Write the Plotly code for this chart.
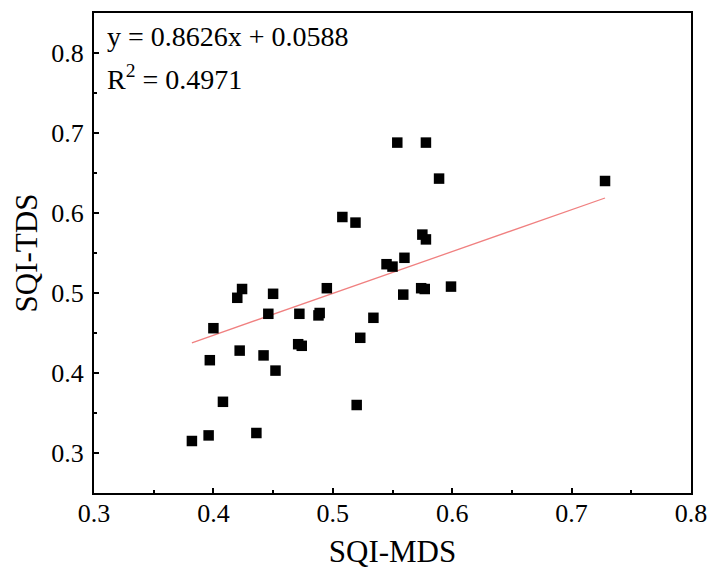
import numpy as np
import plotly.graph_objects as go

sqi_mds = [0.382, 0.396, 0.436, 0.408, 0.397, 0.422, 0.442, 0.452, 0.400, 0.471,
           0.474, 0.446, 0.472, 0.489, 0.488, 0.420, 0.424, 0.450, 0.495, 0.508,
           0.519, 0.554, 0.578, 0.589, 0.575, 0.578, 0.545, 0.550, 0.560, 0.559,
           0.574, 0.577, 0.599, 0.534, 0.523, 0.520, 0.728]
sqi_tds = [0.315, 0.322, 0.325, 0.364, 0.416, 0.428, 0.422, 0.403, 0.456, 0.436,
           0.434, 0.474, 0.474, 0.475, 0.472, 0.494, 0.505, 0.499, 0.506, 0.595,
           0.588, 0.688, 0.688, 0.643, 0.573, 0.567, 0.536, 0.533, 0.544, 0.498,
           0.506, 0.505, 0.508, 0.469, 0.444, 0.360, 0.640]

# trend line as drawn in the figure
trend_slope = 0.523
trend_intercept = 0.238

eq_text = "y = 0.8626x + 0.0588"
r2_text = "R<sup>2</sup> = 0.4971"

x = np.array(sqi_mds)
fit_x = np.array([x.min(), x.max()])
fit_y = trend_slope * fit_x + trend_intercept

font_family = "Liberation Serif, Times New Roman, serif"

fig = go.Figure()
fig.add_trace(go.Scatter(x=fit_x, y=fit_y, mode="lines",
                         line=dict(color="#f08080", width=1.3),
                         showlegend=False))
fig.add_trace(go.Scatter(x=sqi_mds, y=sqi_tds, mode="markers",
                         marker=dict(symbol="square", size=10.5, color="black"),
                         showlegend=False))

axis_common = dict(showline=True, linecolor="black", linewidth=2, mirror=True,
                   ticks="inside", ticklen=5, tickwidth=1.5, tickcolor="black",
                   showgrid=False, zeroline=False, automargin=False,
                   ticklabeloverflow="allow",
                   tickfont=dict(family=font_family, size=26, color="black"),
                   minor=dict(ticks="inside", ticklen=3, tickwidth=1.5, tickcolor="black"))

fig.update_xaxes(range=[0.3, 0.8], dtick=0.1, tick0=0.3, tickformat=".1f",
                 minor_dtick=0.05, ticklabelstandoff=-4,
                 title=dict(text="SQI-MDS", font=dict(family=font_family, size=31, color="black"), standoff=13),
                 **axis_common)
fig.update_yaxes(range=[0.25, 0.85], dtick=0.1, tick0=0.3, tickformat=".1f",
                 minor_dtick=0.05, ticklabelstandoff=3,
                 title=dict(text="SQI-TDS", font=dict(family=font_family, size=31, color="black"), standoff=4),
                 **axis_common)

fig.add_annotation(x=0.0187, y=0.9866, xref="paper", yref="paper", xanchor="left", yanchor="top",
                   text=eq_text, showarrow=False,
                   font=dict(family=font_family, size=28, color="black"))
fig.add_annotation(x=0.0187, y=0.907, xref="paper", yref="paper", xanchor="left", yanchor="top",
                   text=r2_text, showarrow=False,
                   font=dict(family=font_family, size=28, color="black"))

fig.update_layout(width=708, height=569, paper_bgcolor="white", plot_bgcolor="white",
                  margin=dict(l=94, r=17, t=13, b=76))

fig.write_html("out.html", config={"displayModeBar": False},
               post_script="document.body.style.margin='0';document.body.style.overflow='hidden';")
